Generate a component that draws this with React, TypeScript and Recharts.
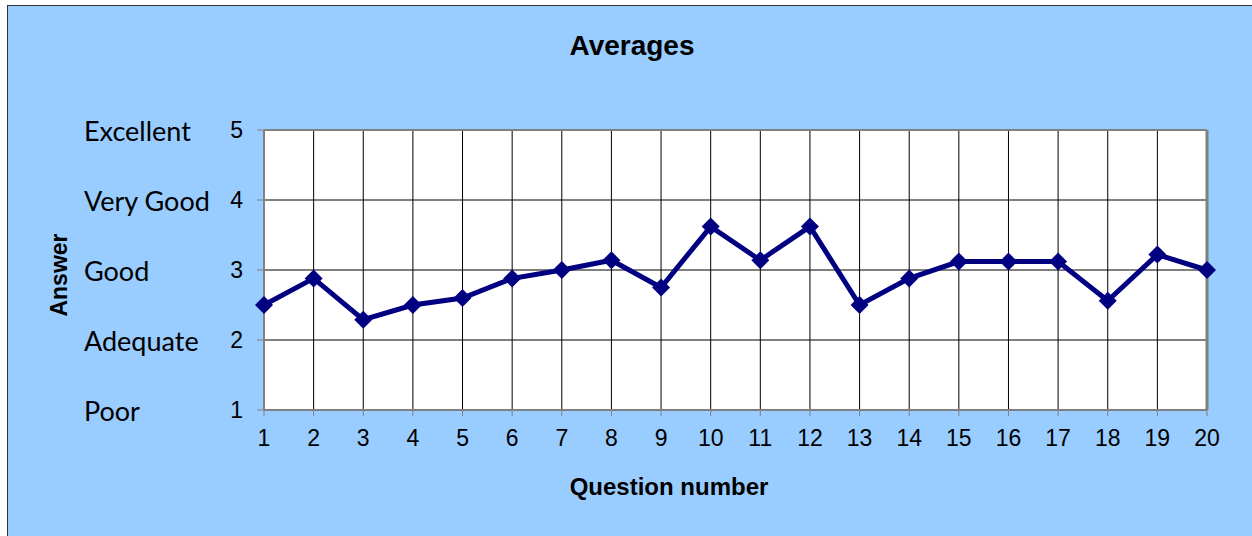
import { CartesianGrid, Label, Line, LineChart, ReferenceLine, XAxis, YAxis } from 'recharts'

const QUESTIONS = [1, 2, 3, 4, 5, 6, 7, 8, 9, 10, 11, 12, 13, 14, 15, 16, 17, 18, 19, 20]
const AVERAGES = [2.5, 2.88, 2.29, 2.5, 2.6, 2.88, 3.0, 3.14, 2.75, 3.62, 3.14, 3.62, 2.5, 2.88, 3.12, 3.12, 3.12, 2.56, 3.22, 3.0]
const SCORE_TICKS = [1, 2, 3, 4, 5]
const SCORE_WORDS = ['Poor', 'Adequate', 'Good', 'Very Good', 'Excellent']

const data = QUESTIONS.map((q, i) => ({ q, avg: AVERAGES[i] }))

const ARIAL = '"Liberation Sans", Arial, sans-serif'
const NAVY = '#000080'

function ScoreTick(props: any) {
  const { x, y, payload } = props
  const word = SCORE_WORDS[SCORE_TICKS.indexOf(payload.value)]
  return (
    <g>
      <text x={x} y={y} dy={8} textAnchor="end" fill="#000" fontSize={23} fontFamily={ARIAL}>
        {payload.value}
      </text>
      <text x={76} y={y} dy={11} textAnchor="start" fill="#000" fontSize={27} fontFamily="Lato, sans-serif">
        {word}
      </text>
    </g>
  )
}

function Diamond(props: any) {
  const { cx, cy } = props
  if (cx == null || cy == null) return null
  const r = 9
  return <path d={`M${cx},${cy - r}L${cx + r},${cy}L${cx},${cy + r}L${cx - r},${cy}Z`} fill={NAVY} />
}

export default function App() {
  return (
    <div
      style={{
        position: 'fixed',
        left: 7,
        top: 5,
        width: 1245,
        height: 531,
        background: '#99ccff',
        borderLeft: '1px solid #333',
        borderTop: '1px solid #333',
        overflow: 'hidden',
      }}
    >
      <div
        style={{
          position: 'absolute',
          left: 0,
          top: 26,
          width: 1248,
          textAlign: 'center',
          fontFamily: ARIAL,
          fontWeight: 'bold',
          fontSize: 28,
          lineHeight: '28px',
          color: '#000',
        }}
      >
        Averages
      </div>
      <LineChart width={1244} height={530} data={data} margin={{ top: 124, right: 45, bottom: 0, left: 0 }}>
        <CartesianGrid fill="#fff" stroke="#000" strokeWidth={1} />
        <XAxis
          dataKey="q"
          type="number"
          domain={[1, 20]}
          ticks={QUESTIONS}
          interval={0}
          height={126}
          tickSize={6}
          tickMargin={14}
          tick={{ fill: '#000', fontSize: 23, fontFamily: ARIAL }}
          tickLine={{ stroke: '#808080' }}
          axisLine={{ stroke: '#808080', strokeWidth: 2 }}
        >
          <Label
            content={() => (
              <text x={661} y={489} textAnchor="middle" fontFamily={ARIAL} fontWeight="bold" fontSize={24} fill="#000">
                Question number
              </text>
            )}
          />
        </XAxis>
        <YAxis
          type="number"
          domain={[1, 5]}
          ticks={SCORE_TICKS}
          interval={0}
          width={256}
          tickSize={7}
          tickMargin={14}
          tick={<ScoreTick />}
          tickLine={{ stroke: '#808080' }}
          axisLine={{ stroke: '#808080', strokeWidth: 2 }}
        >
          <Label
            content={() => (
              <text
                x={59}
                y={269}
                textAnchor="middle"
                transform="rotate(-90, 59, 269)"
                fontFamily={ARIAL}
                fontWeight="bold"
                fontSize={23}
                fill="#000"
              >
                Answer
              </text>
            )}
          />
        </YAxis>
        <ReferenceLine y={5} stroke="#808080" strokeWidth={2} />
        <ReferenceLine x={20} stroke="#808080" strokeWidth={3} />
        <Line
          type="linear"
          dataKey="avg"
          stroke={NAVY}
          strokeWidth={5}
          dot={<Diamond />}
          activeDot={false}
          isAnimationActive={false}
        />
      </LineChart>
    </div>
  )
}
